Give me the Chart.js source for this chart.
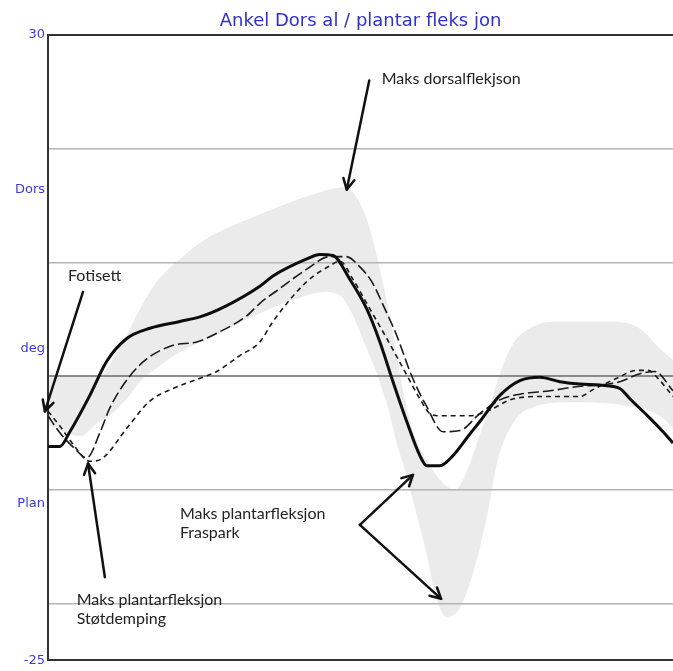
<!DOCTYPE html>
<html>
<head>
<meta charset="utf-8">
<script src="https://cdn.jsdelivr.net/npm/chart.js@4.4.1/dist/chart.umd.min.js"></script>
<style>
  html, body { margin: 0; padding: 0; background: #fff; overflow: hidden; }
</style>
</head>
<body>
<canvas id="c" width="673" height="671"></canvas>
<script>
// Ankle angle (deg) over the gait cycle (%)
const solidX = [0, 1.9, 3.5, 6.7, 9.4, 12.6, 16.3, 21.1, 24.3, 28.6, 33.9, 36, 41.4, 43.5, 45.6, 48.3, 51, 53.1, 55.2, 57.4, 59.5, 60.6, 62.7, 64.8, 67.5, 69.1, 72.3, 75.5, 78.7, 81.9, 85.1, 88.3, 91.5, 93.1, 96.3, 98.4, 100];
const solidY = [-6.2, -6.2, -4.9, -1.7, 1.3, 3.3, 4.2, 4.8, 5.2, 6.2, 7.9, 8.8, 10.3, 10.7, 10.6, 8.5, 5.9, 3.0, -0.5, -4.0, -7.0, -7.9, -7.9, -7.0, -5.1, -4.0, -1.7, -0.4, -0.1, -0.5, -0.7, -0.8, -1.1, -2.0, -3.7, -4.9, -5.9];

const longDashX = [0, 1.9, 4.3, 6.2, 8.3, 9.9, 13.1, 15.8, 20, 23.8, 27.5, 31.8, 33.9, 37.1, 41.4, 45.1, 47.7, 49.9, 51.8, 53.9, 55.7, 58.2, 60.6, 63.2, 65.9, 69.1, 72.3, 75.5, 80.3, 85.1, 88.3, 91.5, 94.7, 97.1, 100];
const longDashY = [-3.5, -5.0, -6.4, -7.2, -5.0, -2.8, 0.0, 1.5, 2.7, 3.0, 3.9, 5.3, 6.4, 7.7, 9.4, 10.5, 10.5, 9.6, 8.3, 5.9, 3.7, 0.0, -2.7, -4.9, -4.8, -3.3, -2.1, -1.6, -1.3, -0.9, -0.8, -0.5, 0.2, 0.4, -1.3];

const shortDashX = [0, 1.9, 4, 6.7, 8.8, 12.6, 16.3, 20, 24.3, 27, 30.7, 33.9, 36, 41.4, 45.1, 46.7, 48.8, 51.5, 54.2, 56.8, 59.5, 61.1, 62.7, 67.5, 70.7, 73.9, 78.7, 85.1, 87.2, 91, 94.2, 96, 97.9, 100];
const shortDashY = [-3.1, -4.4, -6.0, -7.5, -7.2, -4.6, -2.2, -1.1, -0.2, 0.4, 1.8, 3.0, 4.8, 8.3, 9.7, 10.1, 8.5, 5.9, 3.3, 0.7, -2.0, -3.3, -3.5, -3.5, -3.0, -2.1, -1.8, -1.8, -1.2, -0.2, 0.5, 0.5, -0.4, -1.8];

// Normal range band
const bandUpperX = [0, 7.7, 9.0, 10.4, 12.0, 14.7, 17.4, 21.1, 25.4, 33.4, 39.8, 44.3, 47.4, 49.3, 51.2, 53.1, 55.0, 56.3, 57.4, 58.7, 60.3, 62.2, 63.8, 65.1, 67.0, 69.0, 70.9, 72.6, 74.6, 77.8, 81.0, 90.4, 94.9, 97.9, 100];
const bandUpperY = [-0.05, -0.05, 0.3, 1.5, 3.0, 5.9, 8.3, 10.3, 12.1, 14.1, 15.5, 16.3, 16.6, 15.8, 13.5, 9.4, 4.4, 0.2, -2.8, -5.3, -7.1, -8.8, -9.7, -10.0, -8.4, -5.3, -2.3, 0.7, 3.0, 4.4, 4.8, 4.8, 4.1, 2.4, 1.4];

const bandLowerX = [0, 5.1, 8.2, 9.4, 12.6, 14.7, 17.4, 20.8, 27.2, 33.4, 39.8, 44.3, 46.7, 48.8, 51.0, 52.6, 54.4, 55.8, 57.0, 58.7, 60.6, 61.9, 63.8, 65.8, 68.3, 70.2, 72.0, 74.6, 77.8, 84.0, 93.6, 97.9, 100];
const bandLowerY = [-4.3, -5.3, -4.0, -3.7, -2.0, -0.5, 0.7, 2.0, 3.7, 5.4, 6.8, 7.4, 7.1, 5.3, 2.4, 0.2, -2.8, -5.9, -8.1, -11.6, -15.7, -19.1, -21.2, -20.5, -16.8, -12.4, -7.3, -4.0, -2.7, -2.3, -2.7, -3.5, -4.6];

// Y axis: labelled ticks and grid lines
const yLabelValues = [-25, -11.25, 2.4, 16.4, 30];
const yLabelTexts = ['-25', 'Plan', 'deg', 'Dors', '30'];
const gridValues = [-20, -10, 0, 10, 20];

// Callout texts and arrows (gait %, deg)
const callouts = [
  { lines: ['Maks dorsalflekjson'], at: [53.4, 26.1] },
  { lines: ['Fotisett'], at: [3.2, 8.8] },
  { lines: ['Maks plantarfleksjon', 'Fraspark'], at: [21.1, -12.1] },
  { lines: ['Maks plantarfleksjon', 'Støtdemping'], at: [4.6, -19.7] }
];
const arrows = [
  { from: [51.4, 26.0], to: [47.8, 16.4] },
  { from: [5.6, 7.4], to: [-0.5, -3.1] },
  { from: [9.1, -17.7], to: [6.4, -7.7] },
  { from: [49.9, -13.1], to: [58.4, -8.7] },
  { from: [49.9, -13.1], to: [62.9, -19.6] }
];

const toPoints = (xs, ys) => xs.map((x, i) => ({ x: x, y: ys[i] }));
const allTicks = [...new Set([...yLabelValues, ...gridValues])].sort((a, b) => a - b);

const calloutPlugin = {
  id: 'callouts',
  afterDatasetsDraw(chart) {
    const { ctx, scales: { x, y } } = chart;
    ctx.save();
    ctx.strokeStyle = '#111';
    ctx.lineWidth = 2.5;
    ctx.lineCap = 'round';
    ctx.lineJoin = 'round';
    arrows.forEach(a => {
      const x0 = x.getPixelForValue(a.from[0]), y0 = y.getPixelForValue(a.from[1]);
      const x1 = x.getPixelForValue(a.to[0]), y1 = y.getPixelForValue(a.to[1]);
      ctx.beginPath();
      ctx.moveTo(x0, y0);
      ctx.lineTo(x1, y1);
      ctx.stroke();
      const ang = Math.atan2(y1 - y0, x1 - x0);
      const len = 12, spread = Math.PI / 6.5;
      ctx.beginPath();
      ctx.moveTo(x1 - len * Math.cos(ang - spread), y1 - len * Math.sin(ang - spread));
      ctx.lineTo(x1, y1);
      ctx.lineTo(x1 - len * Math.cos(ang + spread), y1 - len * Math.sin(ang + spread));
      ctx.stroke();
    });
    ctx.fillStyle = '#222';
    ctx.font = '16px Lato';
    ctx.textAlign = 'left';
    ctx.textBaseline = 'middle';
    callouts.forEach(c => {
      const px = x.getPixelForValue(c.at[0]);
      const py = y.getPixelForValue(c.at[1]);
      c.lines.forEach((t, i) => ctx.fillText(t, px, py + i * 19));
    });
    ctx.restore();
  }
};

new Chart(document.getElementById('c'), {
  type: 'line',
  data: {
    datasets: [
      { data: toPoints(solidX, solidY), borderColor: '#0d0d0d', borderWidth: 3, pointRadius: 0, fill: false, cubicInterpolationMode: 'monotone' },
      { data: toPoints(longDashX, longDashY), borderColor: '#1a1a1a', borderWidth: 1.6, borderDash: [11, 4], pointRadius: 0, fill: false, cubicInterpolationMode: 'monotone' },
      { data: toPoints(shortDashX, shortDashY), borderColor: '#1a1a1a', borderWidth: 1.6, borderDash: [5, 4], pointRadius: 0, fill: false, cubicInterpolationMode: 'monotone' },
      { data: toPoints(bandUpperX, bandUpperY), borderWidth: 0, borderColor: 'rgba(0,0,0,0)', backgroundColor: '#ebebeb', pointRadius: 0, fill: '+1', cubicInterpolationMode: 'monotone' },
      { data: toPoints(bandLowerX, bandLowerY), borderWidth: 0, borderColor: 'rgba(0,0,0,0)', pointRadius: 0, fill: false, cubicInterpolationMode: 'monotone' }
    ]
  },
  options: {
    responsive: false,
    animation: false,
    layout: { padding: { left: 0, right: 0, top: 0, bottom: 8 } },
    plugins: {
      legend: { display: false },
      tooltip: { enabled: false },
      filler: { drawTime: 'beforeDraw' },
      title: {
        display: true,
        fullSize: false,
        text: 'Ankel Dors al / plantar fleks jon',
        color: '#2f2fd6',
        font: { family: 'DejaVu Sans', size: 18, weight: 'normal', lineHeight: 1.2 },
        padding: { top: 11, bottom: 2.4 }
      }
    },
    scales: {
      x: { type: 'linear', min: 0, max: 100, display: false },
      y: {
        type: 'linear', min: -25, max: 30,
        afterBuildTicks: scale => { scale.ticks = allTicks.map(v => ({ value: v })); },
        afterFit: scale => { scale.width = 48; },
        border: { display: true, color: '#333', width: 2 },
        grid: {
          drawTicks: false,
          color: c => {
            const v = c.tick ? c.tick.value : null;
            if (v === 30 || v === -25) return '#333';
            if (v === 0) return '#8c8c8c';
            return gridValues.includes(v) ? '#b4b4b4' : 'rgba(0,0,0,0)';
          },
          lineWidth: c => {
            const v = c.tick ? c.tick.value : null;
            if (v === 30 || v === -25) return 2;
            if (v === 0) return 2;
            return 1.5;
          }
        },
        ticks: {
          autoSkip: false,
          padding: 3,
          color: '#3a3ae0',
          font: { family: 'DejaVu Sans', size: 13 },
          callback: v => {
            const i = yLabelValues.indexOf(v);
            return i >= 0 ? yLabelTexts[i] : '';
          }
        }
      }
    }
  },
  plugins: [calloutPlugin]
});
</script>
</body>
</html>
